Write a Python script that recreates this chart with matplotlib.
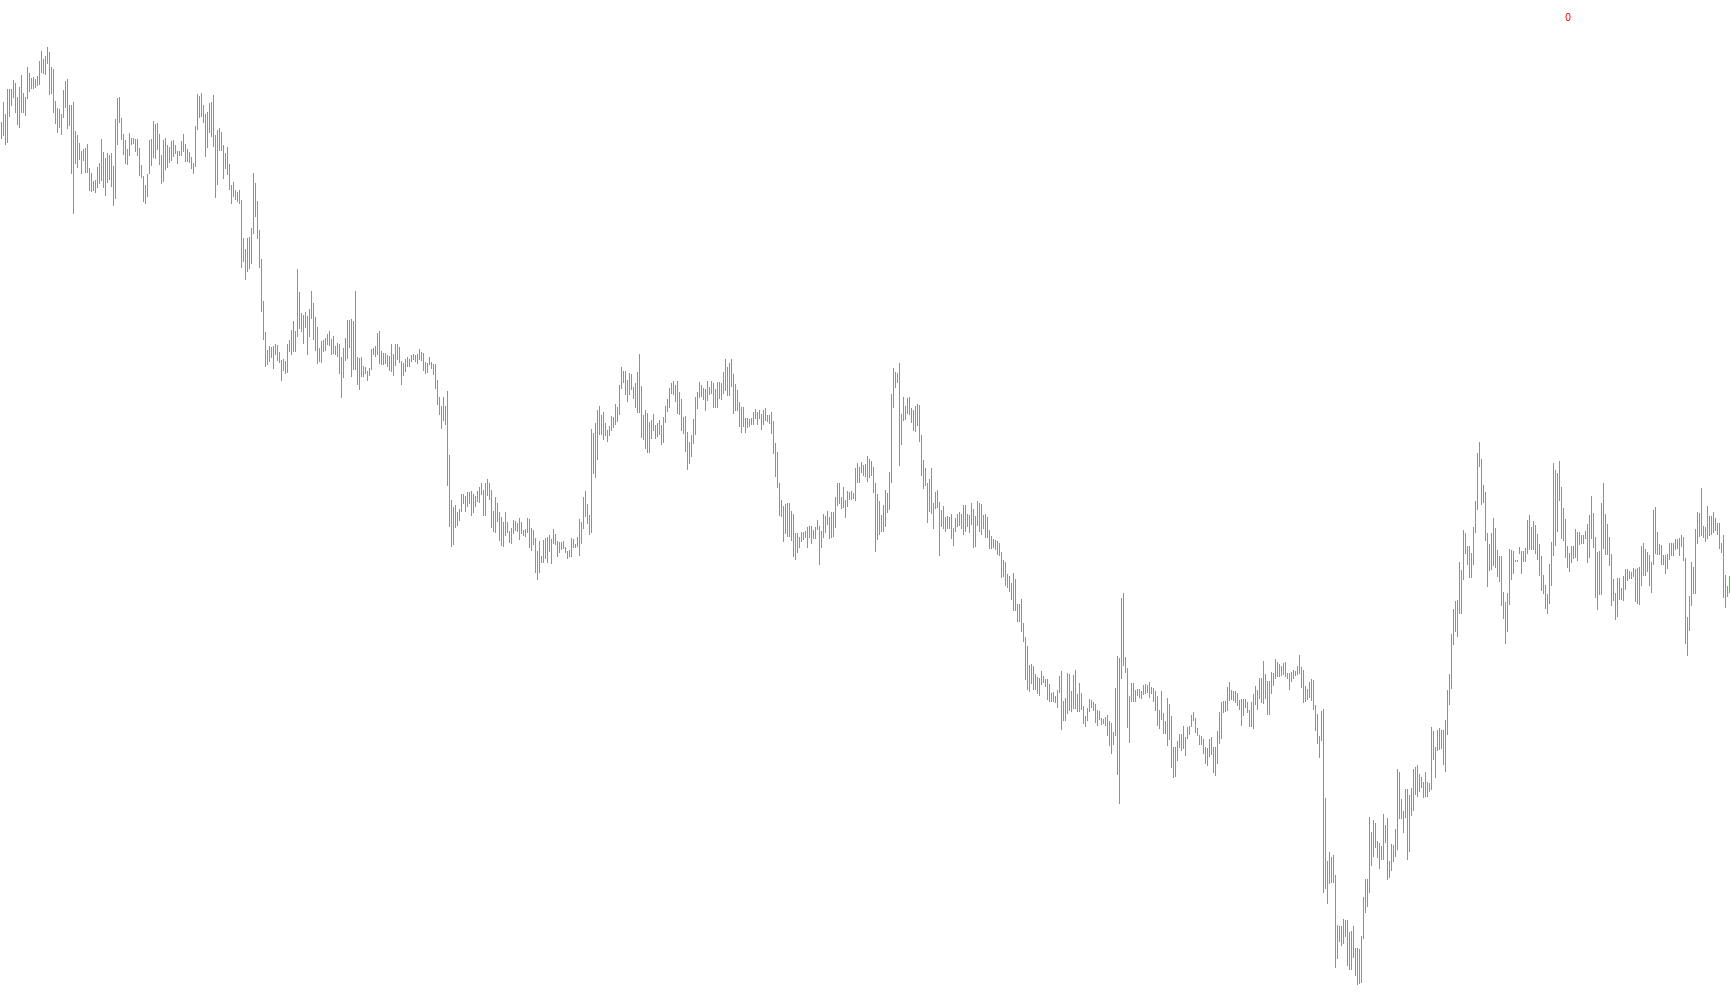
import matplotlib
matplotlib.use('Agg')
import matplotlib.pyplot as plt
import numpy as np

# bar highs / lows, in points
high = [
    878, 898, 886, 911, 911, 911, 920, 917, 903, 913, 925, 907, 903, 933, 927, 922, 923, 921, 924, 939,
    949, 941, 944, 953, 948, 933, 931, 899, 892, 891, 886, 910, 919, 921, 895, 895, 898, 869, 865, 857,
    849, 851, 852, 856, 832, 827, 819, 820, 833, 837, 861, 848, 842, 847, 845, 847, 834, 881, 902, 903,
    882, 866, 860, 851, 867, 862, 862, 861, 861, 852, 835, 824, 815, 826, 860, 861, 879, 876, 877, 866,
    845, 860, 862, 855, 853, 859, 860, 855, 849, 849, 859, 866, 856, 851, 848, 843, 837, 874, 906, 904,
    907, 895, 886, 888, 897, 898, 905, 865, 870, 872, 868, 855, 847, 853, 836, 815, 818, 810, 808, 810,
    800, 762, 751, 762, 763, 772, 827, 817, 799, 770, 741, 699, 668, 650, 654, 653, 654, 656, 655, 648,
    640, 641, 639, 656, 660, 670, 679, 669, 731, 708, 687, 685, 688, 684, 691, 709, 697, 683, 673, 652,
    659, 660, 662, 666, 669, 661, 664, 654, 657, 656, 643, 652, 662, 680, 680, 681, 679, 709, 643, 642,
    643, 634, 633, 629, 632, 651, 652, 654, 667, 669, 649, 647, 647, 645, 644, 656, 646, 656, 656, 653,
    639, 637, 641, 643, 641, 645, 646, 645, 646, 651, 648, 647, 638, 637, 643, 638, 636, 636, 620, 603,
    594, 603, 594, 609, 545, 500, 493, 495, 488, 491, 506, 506, 504, 508, 508, 509, 506, 504, 509, 513,
    517, 510, 517, 521, 517, 510, 489, 503, 497, 488, 483, 478, 488, 478, 469, 472, 480, 479, 477, 482,
    478, 470, 471, 482, 481, 472, 470, 462, 449, 459, 444, 460, 462, 463, 465, 461, 471, 466, 459, 458,
    458, 459, 453, 449, 450, 462, 461, 456, 463, 481, 478, 503, 509, 496, 485, 571, 567, 577, 590, 594,
    585, 588, 577, 570, 574, 584, 583, 596, 593, 615, 633, 629, 629, 620, 627, 626, 613, 617, 628, 646,
    614, 585, 590, 587, 578, 580, 586, 575, 577, 580, 575, 583, 594, 601, 612, 617, 619, 615, 619, 608,
    601, 583, 584, 568, 558, 565, 581, 603, 608, 618, 615, 612, 611, 619, 613, 619, 617, 611, 618, 618,
    617, 628, 641, 633, 637, 641, 626, 616, 610, 598, 593, 593, 582, 582, 581, 582, 588, 591, 588, 590,
    586, 590, 592, 585, 585, 588, 579, 557, 548, 517, 500, 494, 496, 497, 497, 489, 486, 467, 467, 463,
    468, 468, 469, 473, 474, 474, 470, 473, 480, 474, 469, 486, 484, 489, 483, 488, 488, 503, 517, 517,
    503, 513, 500, 509, 508, 509, 507, 532, 537, 533, 538, 535, 536, 544, 541, 539, 533, 517, 506, 499,
    485, 495, 510, 507, 528, 606, 632, 628, 627, 637, 586, 603, 594, 602, 603, 592, 590, 594, 596, 595,
    565, 540, 532, 517, 521, 532, 497, 508, 510, 498, 490, 494, 483, 484, 483, 486, 472, 482, 486, 488,
    486, 495, 495, 486, 485, 497, 491, 484, 499, 497, 496, 485, 486, 483, 470, 464, 461, 460, 459, 457,
    448, 440, 438, 426, 424, 417, 427, 421, 396, 396, 401, 377, 363, 354, 335, 336, 334, 326, 323, 322,
    329, 324, 321, 321, 316, 307, 308, 304, 310, 324, 329, 299, 302, 327, 326, 309, 325, 330, 306, 317,
    307, 294, 284, 292, 301, 300, 298, 296, 290, 289, 282, 281, 283, 285, 279, 277, 268, 312, 344, 342,
    402, 407, 343, 332, 304, 317, 317, 310, 311, 311, 309, 315, 316, 315, 318, 313, 312, 309, 304, 290,
    309, 287, 279, 302, 296, 284, 253, 253, 259, 266, 266, 274, 263, 273, 274, 285, 288, 282, 272, 265,
    264, 261, 253, 252, 261, 263, 253, 253, 269, 288, 298, 299, 299, 313, 318, 310, 309, 309, 307, 300,
    301, 301, 301, 298, 290, 298, 306, 314, 310, 322, 322, 339, 326, 319, 319, 328, 327, 341, 338, 336,
    334, 337, 338, 327, 327, 328, 330, 329, 334, 345, 333, 330, 314, 311, 318, 321, 320, 295, 286, 264,
    289, 291, 202, 139, 148, 143, 145, 125, 75, 74, 74, 81, 80, 80, 68, 69, 74, 52, 52, 51,
    64, 103, 121, 121, 183, 168, 180, 177, 159, 157, 154, 186, 175, 182, 139, 156, 155, 171, 231, 228,
    201, 189, 211, 211, 205, 212, 231, 233, 235, 226, 223, 218, 228, 218, 217, 273, 269, 253, 270, 272,
    270, 270, 280, 310, 326, 366, 391, 399, 400, 438, 430, 470, 467, 454, 454, 447, 473, 499, 547, 558,
    541, 515, 508, 467, 456, 467, 482, 472, 450, 444, 444, 408, 398, 407, 451, 450, 449, 440, 440, 453,
    449, 449, 452, 480, 485, 473, 479, 475, 466, 456, 444, 425, 415, 406, 436, 458, 537, 530, 527, 539,
    513, 492, 481, 454, 447, 454, 454, 471, 468, 468, 465, 465, 469, 476, 485, 504, 487, 463, 448, 449,
    497, 517, 486, 476, 463, 446, 421, 407, 422, 422, 412, 424, 431, 431, 429, 428, 432, 431, 432, 433,
    454, 457, 451, 448, 445, 438, 490, 493, 468, 456, 455, 445, 445, 446, 457, 457, 457, 461, 461, 462,
    465, 463, 442, 383, 404, 438, 433, 471, 488, 487, 512, 474, 473, 494, 484, 484, 488, 482, 477, 477,
    457, 465, 425, 414, 424,
]

low = [
    862, 865, 856, 858, 884, 895, 903, 888, 876, 873, 888, 888, 885, 902, 909, 912, 912, 913, 915, 916,
    928, 927, 926, 937, 906, 907, 888, 877, 868, 873, 866, 883, 893, 872, 875, 827, 787, 837, 833, 841,
    827, 840, 828, 828, 810, 809, 810, 808, 813, 817, 820, 813, 805, 818, 821, 814, 795, 802, 856, 878,
    861, 846, 837, 836, 845, 856, 857, 849, 845, 825, 823, 799, 797, 804, 827, 835, 843, 842, 851, 836,
    817, 819, 831, 833, 838, 840, 844, 847, 837, 845, 845, 849, 839, 839, 838, 832, 827, 834, 871, 883,
    884, 878, 844, 853, 868, 864, 854, 803, 816, 850, 850, 822, 832, 826, 811, 797, 804, 801, 799, 797,
    733, 739, 721, 729, 732, 737, 767, 784, 762, 733, 689, 661, 634, 636, 639, 643, 632, 646, 640, 638,
    620, 630, 627, 628, 649, 646, 649, 649, 664, 672, 669, 657, 673, 646, 664, 682, 661, 650, 637, 639,
    638, 649, 650, 656, 655, 646, 647, 646, 644, 627, 603, 623, 640, 642, 653, 624, 631, 631, 616, 611,
    624, 624, 627, 620, 625, 631, 646, 644, 646, 637, 636, 636, 637, 634, 630, 629, 625, 635, 641, 638,
    616, 625, 629, 634, 634, 639, 641, 639, 637, 641, 640, 630, 627, 628, 636, 632, 626, 612, 596, 586,
    572, 580, 576, 515, 474, 454, 456, 473, 475, 480, 489, 497, 489, 494, 497, 485, 488, 494, 499, 498,
    506, 485, 485, 505, 501, 473, 469, 468, 479, 460, 455, 454, 465, 468, 458, 457, 467, 470, 469, 461,
    467, 465, 464, 468, 453, 450, 456, 428, 421, 428, 438, 438, 442, 438, 449, 437, 457, 456, 444, 448,
    451, 452, 448, 442, 444, 444, 453, 453, 454, 445, 457, 472, 484, 477, 466, 468, 527, 523, 541, 566,
    566, 561, 565, 559, 565, 570, 573, 576, 579, 586, 612, 618, 606, 599, 606, 611, 602, 593, 588, 588,
    563, 561, 552, 548, 548, 562, 570, 562, 564, 566, 556, 558, 578, 589, 593, 607, 606, 599, 587, 586,
    570, 567, 549, 531, 537, 544, 557, 566, 592, 603, 604, 601, 590, 600, 606, 607, 593, 593, 593, 602,
    601, 607, 610, 605, 605, 614, 587, 590, 590, 574, 568, 574, 568, 573, 574, 576, 576, 582, 576, 582,
    571, 576, 580, 579, 577, 567, 547, 524, 513, 485, 484, 459, 467, 464, 464, 460, 444, 441, 448, 453,
    459, 461, 463, 453, 463, 457, 462, 462, 471, 436, 453, 463, 468, 476, 462, 463, 464, 473, 495, 497,
    492, 493, 483, 494, 501, 501, 502, 500, 518, 518, 528, 525, 524, 519, 523, 525, 508, 449, 461, 466,
    469, 469, 474, 488, 491, 518, 593, 613, 618, 535, 556, 580, 581, 587, 586, 578, 570, 569, 575, 559,
    525, 512, 515, 478, 489, 487, 472, 492, 493, 445, 474, 472, 469, 472, 472, 462, 455, 469, 474, 475,
    472, 466, 469, 474, 468, 476, 453, 454, 475, 469, 466, 472, 463, 463, 452, 452, 453, 451, 446, 445,
    423, 424, 415, 413, 409, 401, 390, 390, 379, 379, 369, 359, 321, 311, 309, 317, 311, 311, 307, 305,
    316, 318, 314, 301, 299, 299, 299, 298, 293, 308, 271, 280, 280, 287, 290, 289, 292, 292, 289, 289,
    291, 277, 274, 280, 289, 293, 290, 278, 275, 281, 276, 277, 275, 265, 255, 247, 256, 265, 226, 197,
    322, 335, 328, 273, 258, 299, 299, 299, 305, 303, 302, 306, 307, 308, 303, 307, 299, 290, 275, 272,
    281, 267, 267, 255, 261, 233, 223, 224, 240, 253, 250, 252, 245, 262, 266, 274, 280, 268, 265, 256,
    256, 247, 237, 235, 244, 246, 228, 225, 237, 257, 262, 288, 289, 290, 300, 301, 300, 298, 295, 291,
    275, 285, 293, 288, 274, 274, 272, 296, 291, 302, 298, 297, 302, 286, 286, 307, 315, 322, 324, 324,
    325, 326, 324, 322, 311, 319, 322, 325, 326, 327, 313, 298, 299, 301, 303, 300, 291, 270, 257, 243,
    260, 108, 112, 97, 117, 118, 118, 33, 42, 59, 55, 57, 64, 35, 31, 31, 43, 25, 16, 17,
    18, 62, 88, 94, 108, 135, 144, 153, 143, 132, 141, 141, 158, 121, 123, 130, 139, 144, 151, 182,
    182, 168, 183, 141, 149, 185, 190, 206, 204, 209, 213, 203, 204, 204, 209, 211, 241, 223, 250, 251,
    252, 236, 229, 266, 296, 312, 356, 369, 364, 387, 387, 421, 447, 436, 423, 423, 436, 468, 491, 534,
    496, 498, 460, 414, 430, 431, 435, 433, 424, 419, 395, 382, 357, 369, 396, 421, 427, 439, 439, 447,
    427, 439, 439, 447, 451, 451, 451, 447, 441, 425, 410, 407, 392, 387, 397, 415, 445, 455, 469, 500,
    462, 460, 443, 433, 429, 438, 442, 443, 440, 456, 457, 457, 462, 438, 443, 462, 453, 403, 391, 406,
    406, 452, 446, 446, 435, 395, 400, 381, 384, 401, 401, 400, 411, 420, 422, 422, 424, 399, 397, 396,
    415, 425, 425, 429, 415, 408, 436, 447, 446, 446, 436, 436, 427, 432, 441, 445, 445, 451, 452, 445,
    454, 440, 357, 345, 370, 395, 407, 407, 457, 464, 465, 463, 459, 462, 465, 466, 468, 470, 466, 452,
    448, 403, 393, 404, 408,
]

bar_color = '#1ee01e'

x = np.arange(len(high))

fig = plt.figure(figsize=(17.3, 10.05), dpi=100, facecolor='white')
ax = fig.add_axes([0, 0, 1, 1])
ax.vlines(x, low, high, colors=bar_color, linewidth=0.7, antialiased=False)

ax.set_xlim(-0.5, len(high) - 0.5)
ax.set_ylim(-5, 1000)
ax.axis('off')

fig.text(0.906, 0.982, '0', color='red', fontsize=7, ha='center', va='center')

fig.savefig('out.png', dpi=100, facecolor='white')
